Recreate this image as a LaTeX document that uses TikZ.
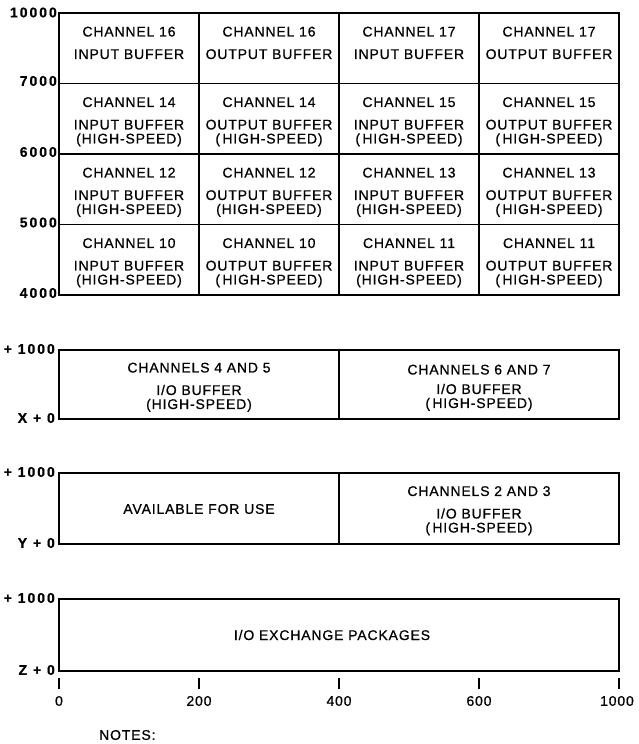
\documentclass[tikz,border=0pt]{standalone}
\usepackage{fontspec}
\setmainfont{Liberation Sans}[LetterSpace=6, FakeBold=0.7]
\usepackage{tikz}
\usetikzlibrary{positioning}
\tikzstyle{box} = [line width=1.8pt]
\tikzstyle{cell} = [align=center, anchor=north, inner sep=0pt, font=\fontsize{14}{14}\selectfont]
\tikzstyle{addr} = [anchor=east, inner sep=0pt, font=\fontsize{14}{14}\selectfont\bfseries\addfontfeatures{LetterSpace=14}]
\tikzstyle{tick} = [inner sep=0pt, font=\fontsize{14}{14}\selectfont]
\newcommand{\hs}{(HIGH-SPEED)}
\newcommand{\hsp}{(\thinspace HIGH-SPEED)}

\begin{document}
\begin{tikzpicture}[x=1pt, y=-1pt]
		\useasboundingbox (0, 0) rectangle (639, 744);
		% channel buffers
		\draw[box] (59, 13) rectangle (199, 83.5);
		\draw[box] (199, 13) rectangle (339, 83.5);
		\draw[box] (339, 13) rectangle (479, 83.5);
		\draw[box] (479, 13) rectangle (619, 83.5);
		\draw[box] (59, 83.5) rectangle (199, 154);
		\draw[box] (199, 83.5) rectangle (339, 154);
		\draw[box] (339, 83.5) rectangle (479, 154);
		\draw[box] (479, 83.5) rectangle (619, 154);
		\draw[box] (59, 154) rectangle (199, 224.5);
		\draw[box] (199, 154) rectangle (339, 224.5);
		\draw[box] (339, 154) rectangle (479, 224.5);
		\draw[box] (479, 154) rectangle (619, 224.5);
		\draw[box] (59, 224.5) rectangle (199, 295);
		\draw[box] (199, 224.5) rectangle (339, 295);
		\draw[box] (339, 224.5) rectangle (479, 295);
		\draw[box] (479, 224.5) rectangle (619, 295);

		\node[cell] (in16) at (129, 26.5) {CHANNEL 16\\[8.5pt]INPUT BUFFER};
		\node[cell] (out16) at (269, 26.5) {CHANNEL 16\\[8.5pt]OUTPUT BUFFER};
		\node[cell] (in17) at (409, 26.5) {CHANNEL 17\\[8.5pt]INPUT BUFFER};
		\node[cell] (out17) at (549, 26.5) {CHANNEL 17\\[8.5pt]OUTPUT BUFFER};
		\node[cell] (in14) at (129, 97) {CHANNEL 14\\[8.5pt]INPUT BUFFER\\\hs};
		\node[cell] (out14) at (269, 97) {CHANNEL 14\\[8.5pt]OUTPUT BUFFER\\\hsp};
		\node[cell] (in15) at (409, 97) {CHANNEL 15\\[8.5pt]INPUT BUFFER\\\hsp};
		\node[cell] (out15) at (549, 97) {CHANNEL 15\\[8.5pt]OUTPUT BUFFER\\\hsp};
		\node[cell] (in12) at (129, 167.5) {CHANNEL 12\\[8.5pt]INPUT BUFFER\\\hs};
		\node[cell] (out12) at (269, 167.5) {CHANNEL 12\\[8.5pt]OUTPUT BUFFER\\\hs};
		\node[cell] (in13) at (409, 167.5) {CHANNEL 13\\[8.5pt]INPUT BUFFER\\\hs};
		\node[cell] (out13) at (549, 167.5) {CHANNEL 13\\[8.5pt]OUTPUT BUFFER\\\hsp};
		\node[cell] (in10) at (129, 238) {CHANNEL 10\\[8.5pt]INPUT BUFFER\\\hs};
		\node[cell] (out10) at (269, 238) {CHANNEL 10\\[8.5pt]OUTPUT BUFFER\\\hsp};
		\node[cell] (in11) at (409, 238) {CHANNEL 11\\[8.5pt]INPUT BUFFER\\\hs};
		\node[cell] (out11) at (549, 238) {CHANNEL 11\\[8.5pt]OUTPUT BUFFER\\\hsp};

		\node[addr] (a10000) at (57, 12.5) {10000};
		\node[addr] (a7000) at (57, 81) {7000};
		\node[addr] (a6000) at (57, 152) {6000};
		\node[addr] (a5000) at (57, 222.5) {5000};
		\node[addr] (a4000) at (57, 293) {4000};

		% X, Y and Z areas
		\draw[box] (59, 350) rectangle (339, 419);
		\draw[box] (339, 350) rectangle (619, 419);
		\draw[box] (59, 473) rectangle (339, 544);
		\draw[box] (339, 473) rectangle (619, 544);
		\draw[box] (59, 599) rectangle (619, 671);

		\node[cell] (io45) at (199, 362.5) {CHANNELS 4 AND 5\\[8.5pt]I/O BUFFER\\\hs};
		\node[cell] (io67) at (479, 364.5) {CHANNELS 6 AND 7\\[5.5pt]I/O BUFFER\\\hsp};
		\node[cell, anchor=center] (free) at (199, 509) {AVAILABLE FOR USE};
		\node[cell] (io23) at (479, 486) {CHANNELS 2 AND 3\\[8.5pt]I/O BUFFER\\\hsp};
		\node[cell, anchor=center] (xchg) at (332, 635) {I/O EXCHANGE PACKAGES};

		\node[addr] (xtop) at (55, 349) {+ 1000};
		\node[addr] (xbot) at (55, 418) {X + 0};
		\node[addr] (ytop) at (55, 472) {+ 1000};
		\node[addr] (ybot) at (55, 543) {Y + 0};
		\node[addr] (ztop) at (55, 598) {+ 1000};
		\node[addr] (zbot) at (55, 670) {Z + 0};

		% word scale
		\draw[box] (59, 678) -- (59, 689);
		\draw[box] (199, 678) -- (199, 689);
		\draw[box] (339, 678) -- (339, 689);
		\draw[box] (479, 678) -- (479, 689);
		\draw[box] (619, 678) -- (619, 689);
		\node[tick] (s0) at (59, 701) {0};
		\node[tick] (s200) at (199, 701) {200};
		\node[tick] (s400) at (339, 701) {400};
		\node[tick] (s600) at (479, 701) {600};
		\node[tick] (s1000) at (617, 701) {1000};

		\node[tick, anchor=west] (notes) at (99, 735) {NOTES:};
		\end{tikzpicture}
\end{document}
